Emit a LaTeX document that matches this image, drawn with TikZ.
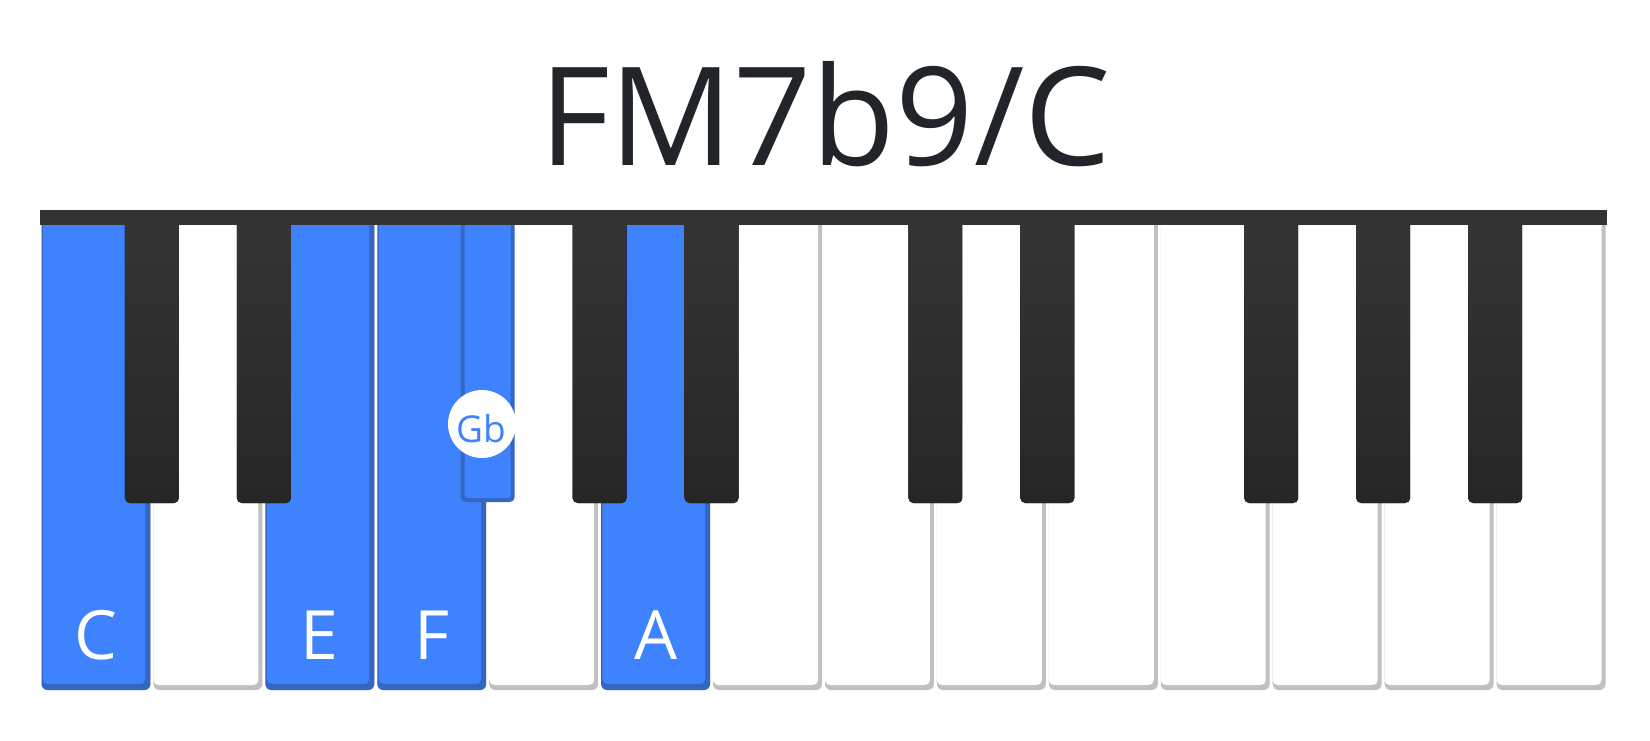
\documentclass[tikz,border=0pt]{standalone}
\usepackage{fontspec}
\setmainfont{Open Sans}
\definecolor{keyblue}{HTML}{3F82FD}
\definecolor{keyblueedge}{HTML}{3466C2}
\definecolor{keygray}{HTML}{C0C0C0}
\definecolor{blacktop}{HTML}{353535}
\definecolor{blackbot}{HTML}{262626}
\definecolor{barcol}{HTML}{333333}
\definecolor{titlecol}{HTML}{212529}
\tikzset{
  notelabel/.style={anchor=base, inner sep=0pt, text=white, font=\fontsize{68}{68}\selectfont},
  titlelabel/.style={anchor=base, inner sep=0pt, text=titlecol, font=\fontsize{137}{137}\selectfont},
  dotlabel/.style={anchor=base, inner sep=0pt, text=keyblue, font=\fontsize{37}{37}\selectfont},
}
\begin{document}
\begin{tikzpicture}[x=1pt,y=-1pt]
\useasboundingbox (0,0) rectangle (1650,740);
\fill[white] (0,0) rectangle (1650,740);
\pgfmathsetmacro{\p}{1567/14}
% white keys
\foreach \i in {0,...,13}{
  \pgfmathsetmacro{\xa}{40+\i*\p+1.5}
  \pgfmathsetmacro{\xb}{40+(\i+1)*\p-1.5}
  \fill[keygray, rounded corners=6] (\xa,213) rectangle (\xb,690);
  \fill[white, rounded corners=5] (\xa,213) rectangle (\xb-4,685);
}
% highlighted white keys C E F A
\foreach \i in {0,2,3,5}{
  \pgfmathsetmacro{\xa}{40+\i*\p+1.5}
  \pgfmathsetmacro{\xb}{40+(\i+1)*\p-1.5}
  \fill[keyblueedge, rounded corners=6] (\xa,213) rectangle (\xb,690);
  \fill[keyblue, rounded corners=5] (\xa+1.5,213) rectangle (\xb-5,684);
}
% black keys
\foreach \i in {1,2,5,6,8,9,11,12,13}{
  \pgfmathsetmacro{\xc}{40+\i*\p}
  \fill[top color=blacktop, bottom color=blackbot, rounded corners=5] (\xc-27,213) rectangle (\xc+27,503);
}
% highlighted black key Gb
\pgfmathsetmacro{\xg}{40+4*\p}
\fill[keyblueedge, rounded corners=5] (\xg-27,213) rectangle (\xg+27,502);
\fill[keyblue, rounded corners=3] (\xg-23,213) rectangle (\xg+23,498);
% top bar
\fill[barcol] (40,210) rectangle (1607,225);
% labels
\node[titlelabel] (title) at (825,165) {FM7b9/C};
\node[notelabel] (labC) at ({40+0.5*\p},659) {C};
\node[notelabel] (labE) at ({40+2.5*\p},659) {E};
\node[notelabel] (labF) at ({40+3.5*\p},659) {F};
\node[notelabel] (labA) at ({40+5.5*\p},659) {A};
\node[circle, fill=white, minimum size=68, inner sep=0pt] (gbdot) at (482,424) {};
\node[dotlabel] (labGb) at (481,442) {Gb};
\end{tikzpicture}
\end{document}
